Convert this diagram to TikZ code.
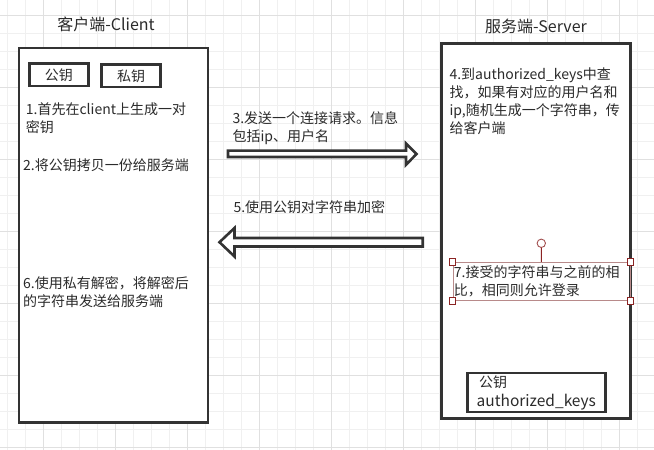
\documentclass[tikz,border=0pt]{standalone}
\usepackage{fontspec}
\setmainfont{Noto Sans CJK SC}
\definecolor{boxc}{HTML}{333333}
\definecolor{gridminor}{HTML}{F0F0F0}
\definecolor{gridmajor}{HTML}{E0E0E0}
\definecolor{selc}{HTML}{B88A8A}
\definecolor{handlec}{HTML}{8B2323}
\definecolor{txtc}{HTML}{2B2B2B}
\begin{document}
\begin{tikzpicture}[x=1pt,y=-1pt,
  frame/.style={draw=boxc, line width=2.6pt, inner sep=0pt, fill=white},
  keybox/.style={draw=boxc, line width=2.6pt, inner sep=0pt, fill=white, minimum width=59pt, minimum height=22.5pt, font=\fontsize{14pt}{18pt}\selectfont, text=txtc},
  txtf/.style={font=\fontsize{14pt}{18pt}\selectfont, text=txtc, align=left, inner sep=0pt, anchor=base west},
  title/.style={font=\fontsize{16pt}{19pt}\selectfont, text=txtc, inner sep=0pt},
  blockarrow/.style={draw=boxc, line width=2.6pt, fill=white, line join=miter},
  handle/.style={draw=handlec, fill=white, line width=0.9pt, minimum size=6.5pt, inner sep=0pt},
]
\useasboundingbox (0,0) rectangle (654,450);
\fill[white] (0,0) rectangle (654,450);
% grid
\foreach \i in {0,...,36} \draw[gridminor, line width=0.8pt] ({7.3+18*\i},0) -- ({7.3+18*\i},450);
\foreach \j in {0,...,24} \draw[gridminor, line width=0.8pt] (0,{15.3+18*\j}) -- (654,{15.3+18*\j});
\foreach \i in {0,...,8} \draw[gridmajor, line width=0.8pt] ({43.3+72*\i},0) -- ({43.3+72*\i},450);
\foreach \j in {0,...,6} \draw[gridmajor, line width=0.8pt] (0,{15.3+72*\j}) -- (654,{15.3+72*\j});

% titles
\node[title] (ctitle) at (106,24) {客户端-Client};
\node[title] (stitle) at (536,26) {服务端-Server};

% main frames
\node[frame, minimum width=189pt, minimum height=374.7pt] (client) at (113.5,235.4) {};
\node[frame, minimum width=189pt, minimum height=375pt] (server) at (535.9,231.2) {};

% key boxes
\node[keybox] (pub) at (59,74.8) {公钥};
\node[keybox] (priv) at (131,75.8) {私钥};

% client texts (anchor = baseline of last line)
\node[txtf] (t1) at (25.7,132.3) {1.首先在client上生成一对\\密钥};
\node[txtf] (t2) at (23,170.3) {2.将公钥拷贝一份给服务端};
\node[txtf] (t6) at (23,306.3) {6.使用私有解密，将解密后\\的字符串发送给服务端};

% middle texts
\node[txtf] (t3) at (232.3,141) {3.发送一个连接请求。信息\\包括ip、用户名};
\node[txtf] (t5) at (233.3,212.5) {5.使用公钥对字符串加密};

% server texts
\node[txtf] (t4) at (449.3,133.1) {4.到authorized\_keys中查\\找，如果有对应的用户名和\\ip,随机生成一个字符串，传\\给客户端};

% selected text 7
\node[draw=selc, line width=0.7pt, text width=175pt, minimum height=38.4pt, inner sep=1pt, align=left, font=\fontsize{14pt}{18pt}\selectfont, text=txtc] (t7) at (541.35,281.5) {7.接受的字符串与之前的相\\比，相同则允许登录};
\node[handle] (h1) at (t7.north west) {};
\node[handle] (h2) at (t7.north east) {};
\node[handle] (h3) at (t7.south west) {};
\node[handle] (h4) at (t7.south east) {};
\node[draw=handlec!80!white, fill=white, circle, minimum size=8.4pt, inner sep=0pt, line width=0.9pt] (rot) at (541.3,243.3) {};
\draw[handlec, line width=0.9pt] (t7.north) -- (rot.south);

% authorized_keys box
\node[frame, minimum width=138pt, minimum height=39pt, align=left, font=\fontsize{15.5pt}{19pt}\selectfont, text=txtc] (ak) at (536.3,392.5) {\hspace{2.5pt}{\fontsize{14pt}{18pt}\selectfont 公钥}\\authorized\_keys};

% block arrows
\coordinate (a3s) at (228,150.6);
\draw[blockarrow] (a3s) -- (406,150.6) -- (406,143.5) -- (416.5,154) -- (406,164.8) -- (406,157) -- (228,157) -- cycle;
\coordinate (a5s) at (422.7,238);
\draw[blockarrow] (a5s) -- (234.5,238) -- (234.5,228) -- (219.5,242.2) -- (234.5,256.5) -- (234.5,246.5) -- (422.7,246.5) -- cycle;
\end{tikzpicture}
\end{document}
